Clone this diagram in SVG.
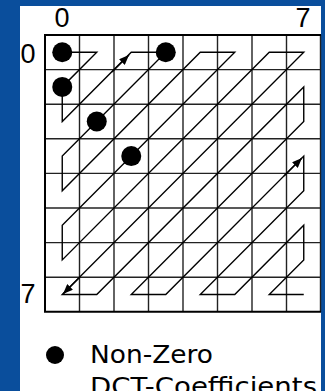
<svg xmlns="http://www.w3.org/2000/svg" width="325" height="391" viewBox="0 0 325 391">
  <defs>
    <style>
      .grid line { stroke: #222; stroke-width: 1.4; }
      .border { stroke: #000; stroke-width: 2; fill: none; }
      .scan { fill: none; stroke: #000; stroke-width: 1.4; stroke-linejoin: miter; }
      .dot { fill: #000; }
      .idx { font-family: "Liberation Sans", Arial, sans-serif; font-size: 27px; fill: #000; }
      .legend { font-family: "DejaVu Sans", "Liberation Sans", sans-serif; font-size: 25px; fill: #000; }
    </style>
    <marker id="arrow" viewBox="0 0 10 8" refX="10" refY="4" markerWidth="10" markerHeight="8" markerUnits="userSpaceOnUse" orient="auto">
      <path d="M0,0 L10,4 L0,8 Z" fill="#000"/>
    </marker>
  </defs>

  <rect x="0" y="0" width="325" height="391" fill="#0a4e9c"/>
  <rect x="20" y="6" width="301" height="385" fill="#ffffff"/>

  <g id="grid" class="grid">
    <line x1="79.5" y1="35" x2="79.5" y2="312"/>
    <line x1="114" y1="35" x2="114" y2="312"/>
    <line x1="148.5" y1="35" x2="148.5" y2="312"/>
    <line x1="183" y1="35" x2="183" y2="312"/>
    <line x1="217.5" y1="35" x2="217.5" y2="312"/>
    <line x1="252" y1="35" x2="252" y2="312"/>
    <line x1="286.5" y1="35" x2="286.5" y2="312"/>
    <line x1="320.5" y1="35" x2="320.5" y2="312"/>
    <line x1="45" y1="69.6" x2="321" y2="69.6"/>
    <line x1="45" y1="104.2" x2="321" y2="104.2"/>
    <line x1="45" y1="138.8" x2="321" y2="138.8"/>
    <line x1="45" y1="173.4" x2="321" y2="173.4"/>
    <line x1="45" y1="208" x2="321" y2="208"/>
    <line x1="45" y1="242.6" x2="321" y2="242.6"/>
    <line x1="45" y1="277.2" x2="321" y2="277.2"/>
    <path class="border" d="M321,35 H45 V311.8 H321"/>
  </g>

  <g id="labels">
    <text class="idx" x="62" y="27" text-anchor="middle">0</text>
    <text class="idx" x="303" y="27" text-anchor="middle">7</text>
    <text class="idx" x="28" y="63" text-anchor="middle" font-size="30">0</text>
    <text class="idx" x="28" y="303" text-anchor="middle">7</text>
  </g>

  <g id="connectors">
    <polyline class="scan" points="62.25,52.3 96.75,52.3 62.25,86.9 62.25,121.5 131.25,52.3 165.75,52.3 62.25,156.1 62.25,190.7 200.25,52.3 234.75,52.3 62.25,225.3 62.25,259.9 269.25,52.3 303.75,52.3 62.25,294.5 96.75,294.5 303.75,86.9 303.75,121.5 131.25,294.5 165.75,294.5 303.75,156.1 303.75,190.7 200.25,294.5 234.75,294.5 303.75,225.3 303.75,259.9 269.25,294.5 303.75,294.5"/>
    <line x1="112" y1="72" x2="129" y2="55" stroke="#000" stroke-width="1.4" marker-end="url(#arrow)"/>
    <line x1="284" y1="176" x2="302" y2="158" stroke="#000" stroke-width="1.4" marker-end="url(#arrow)"/>
    <line x1="80" y1="277" x2="63" y2="294" stroke="#000" stroke-width="1.4" marker-end="url(#arrow)"/>
  </g>

  <g id="coefficients">
    <circle class="dot" cx="62.25" cy="52.3" r="10"/>
    <circle class="dot" cx="62.25" cy="86.9" r="10"/>
    <circle class="dot" cx="165.75" cy="52.3" r="10"/>
    <circle class="dot" cx="96.75" cy="121.5" r="10"/>
    <circle class="dot" cx="131.25" cy="156.1" r="10"/>
  </g>

  <g id="legend">
    <circle class="dot" cx="55" cy="355" r="9"/>
    <text class="legend" x="90" y="363" textLength="123" lengthAdjust="spacingAndGlyphs">Non-Zero</text>
    <text class="legend" x="90" y="395" textLength="227" lengthAdjust="spacingAndGlyphs">DCT-Coefficients</text>
  </g>
</svg>
